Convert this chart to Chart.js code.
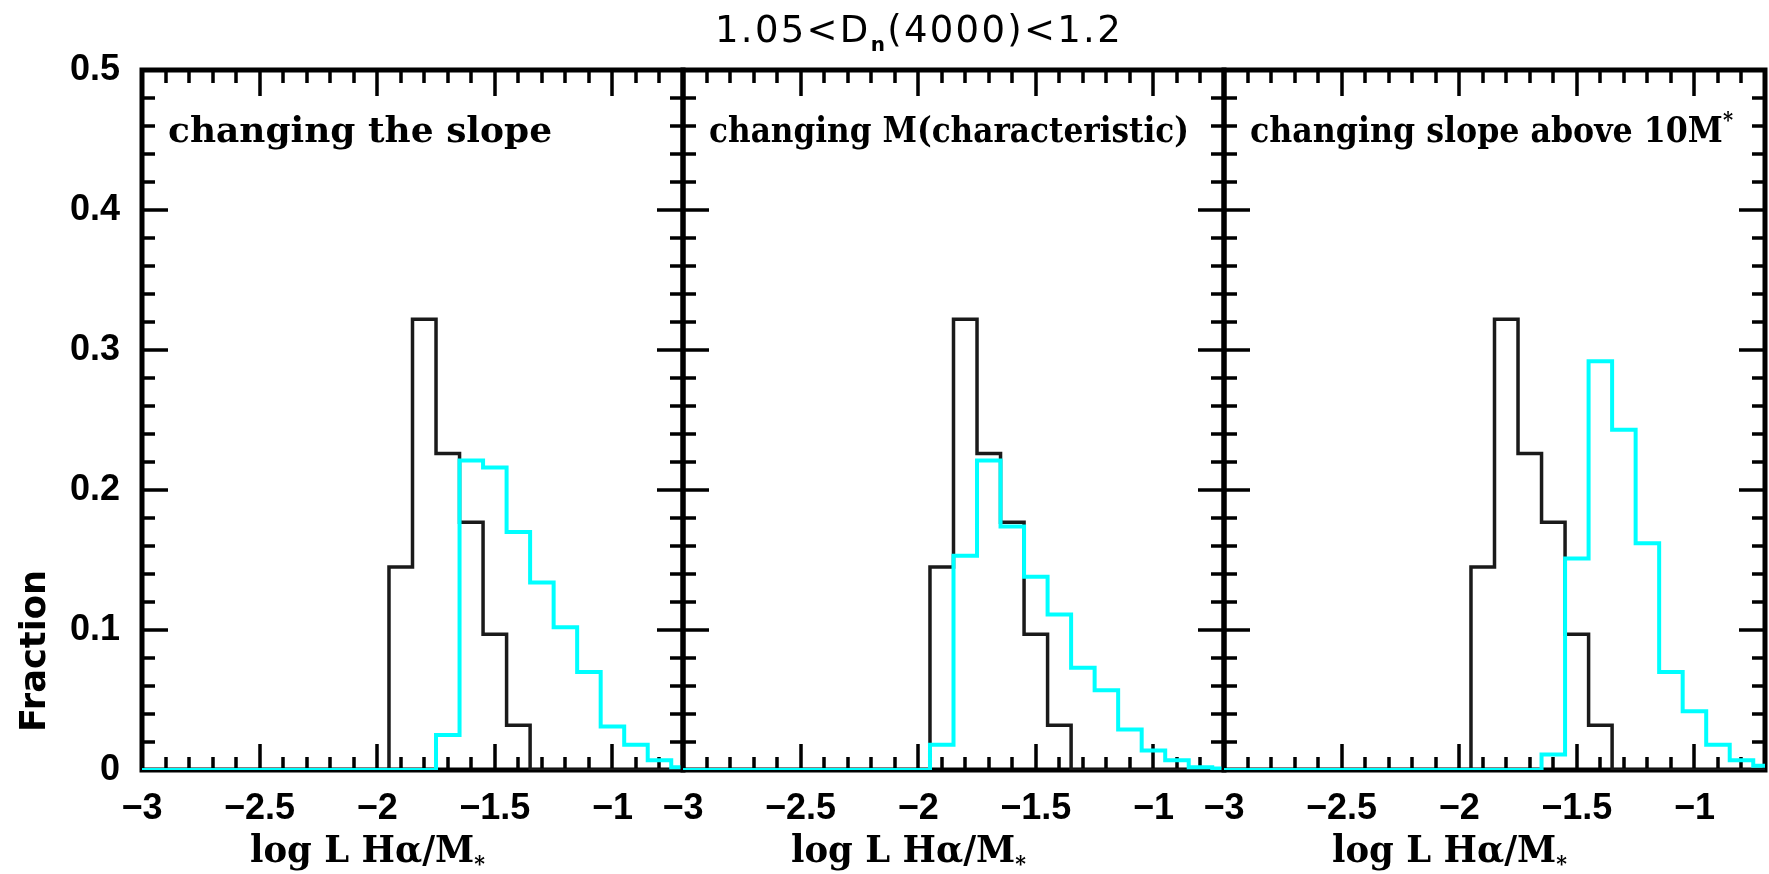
<!DOCTYPE html>
<html>
<head>
<meta charset="utf-8">
<script src="https://cdn.jsdelivr.net/npm/chart.js@4.4.1/dist/chart.umd.min.js"></script>
<style>
  html, body { margin: 0; padding: 0; background: #fff; }
  #wrap { position: relative; width: 1769px; height: 874px; overflow: hidden; }
  #wrap canvas { position: absolute; left: 0; top: 0; }
</style>
</head>
<body>
<div id="wrap">
  <canvas id="panel1" width="1769" height="874"></canvas>
  <canvas id="panel2" width="1769" height="874"></canvas>
  <canvas id="panel3" width="1769" height="874"></canvas>
</div>
<script>
// bin centres in log L Ha / M*  (bins are 0.1 wide)
const binCenters = [-3.0, -2.9, -2.8, -2.7, -2.6, -2.5, -2.4, -2.3, -2.2, -2.1, -2.0, -1.9,
                    -1.8, -1.7, -1.6, -1.5, -1.4, -1.3, -1.2, -1.1, -1.0, -0.9, -0.8, -0.7];

// observed distribution (black), same in every panel
const fracObserved = [0, 0, 0, 0, 0, 0, 0, 0, 0, 0, 0, 0.145,
                      0.322, 0.226, 0.177, 0.097, 0.032, 0, 0, 0, 0, 0, 0, 0];

// model distributions (cyan)
const fracSlope = [0, 0, 0, 0, 0, 0, 0, 0, 0, 0, 0, 0,
                   0, 0.025, 0.221, 0.216, 0.170, 0.134, 0.102, 0.070, 0.031, 0.018, 0.007, 0.002];
const fracMchar = [0, 0, 0, 0, 0, 0, 0, 0, 0, 0, 0, 0.018,
                   0.153, 0.221, 0.174, 0.138, 0.111, 0.073, 0.057, 0.029, 0.014, 0.007, 0.002, 0.001];
const fracSlopeAbove = [0, 0, 0, 0, 0, 0, 0, 0, 0, 0, 0, 0,
                        0, 0, 0.011, 0.151, 0.292, 0.243, 0.162, 0.070, 0.042, 0.018, 0.007, 0.003];

const xTickValues = [-3, -2.5, -2, -1.5, -1];
const yTickValues = [0, 0.1, 0.2, 0.3, 0.4, 0.5];
const xMinorStep = 0.1;
const yMinorStep = 0.02;

const panelTexts = [
  [['changing the slope']],
  [['changing M(characteristic)']],
  [['changing slope above 10M'], ['*', 'sup']]
];
const titleText = [['1.05<D'], ['n', 'sub'], ['(4000)<1.2']];
const xTitleText = [['log L H\u03b1/M'], ['*', 'sub']];
const yTitleText = [['Fraction']];

// layout (pixels)
const panelLeft = [142, 683, 1224];
const panelW = 541;
const yAxisW = 142;
const areaTop = 70, areaBottom = 770;
const labelWidths = [384, 480, 483];

// draws text pieces (normal / sub / sup) fitted to a target width
function drawRich(ctx, parts, x, y, font, smallFont, width) {
  ctx.save();
  ctx.fillStyle = '#000';
  ctx.textAlign = 'left';
  ctx.textBaseline = 'alphabetic';
  let natural = 0, chars = 0;
  parts.forEach(p => {
    ctx.font = p[1] ? smallFont : font;
    natural += ctx.measureText(p[0]).width;
    chars += p[0].length;
  });
  ctx.translate(x, y);
  if (natural > width) {
    ctx.scale(width / natural, 1);
  } else {
    ctx.letterSpacing = ((width - natural) / chars) + 'px';
  }
  let cx = 0;
  parts.forEach(p => {
    ctx.font = p[1] ? smallFont : font;
    let dy = 0;
    if (p[1] === 'sub') dy = 9;
    if (p[1] === 'sup') dy = -15;
    ctx.fillText(p[0], cx, dy);
    cx += ctx.measureText(p[0]).width;
  });
  ctx.restore();
}

const frameTicks = {
  id: 'frameTicks',
  beforeDatasetsDraw(chart) {
    const { ctx, chartArea: a, scales: { x, y } } = chart;
    ctx.save();
    ctx.strokeStyle = '#000';
    ctx.lineWidth = 3.5;
    ctx.beginPath();
    const nx = Math.round((x.max - x.min) / xMinorStep);
    for (let k = 1; k < nx; k++) {
      const px = Math.round(x.getPixelForValue(x.min + k * xMinorStep));
      const len = k % 5 === 0 ? 26 : 13;
      ctx.moveTo(px, a.top); ctx.lineTo(px, a.top + len);
      ctx.moveTo(px, a.bottom); ctx.lineTo(px, a.bottom - len);
    }
    const ny = Math.round((y.max - y.min) / yMinorStep);
    for (let k = 1; k < ny; k++) {
      const py = Math.round(y.getPixelForValue(y.min + k * yMinorStep));
      const len = k % 5 === 0 ? 26 : 13;
      ctx.moveTo(a.left, py); ctx.lineTo(a.left + len, py);
      ctx.moveTo(a.right, py); ctx.lineTo(a.right - len, py);
    }
    ctx.stroke();
    ctx.lineWidth = 5;
    ctx.strokeRect(a.left, a.top, a.right - a.left, a.bottom - a.top);
    ctx.restore();
  },
  afterDraw(chart) {
    const { ctx, chartArea: a } = chart;
    const i = chart.options.plugins.frameTicks.panel;
    drawRich(ctx, panelTexts[i], a.left + 26, 142, 'bold 36px "DejaVu Serif"', 'bold 22px "DejaVu Serif"', labelWidths[i]);
    drawRich(ctx, xTitleText, a.left + 108, 862, 'bold 38px "DejaVu Serif"', 'bold 22px "DejaVu Serif"', 235);
    if (i === 0) {
      drawRich(ctx, titleText, 715, 42, '37px "DejaVu Sans"', 'bold 20px "DejaVu Sans"', 408);
      ctx.save();
      ctx.translate(45, 732);
      ctx.rotate(-Math.PI / 2);
      drawRich(ctx, yTitleText, 0, 0, 'bold 36px "DejaVu Sans"', 'bold 20px "DejaVu Sans"', 162);
      ctx.restore();
    }
  }
};

function toPoints(vals) {
  return binCenters.map((x, i) => ({ x: x, y: vals[i] }));
}

function makePanel(id, i, model) {
  const tickFont = { family: 'Liberation Sans', size: 36, weight: 'bold' };
  return new Chart(document.getElementById(id), {
    type: 'line',
    data: {
      datasets: [
        { data: toPoints(fracObserved), borderColor: '#1a1a1a', borderWidth: 3.5, order: 1 },
        { data: toPoints(model), borderColor: '#00ffff', borderWidth: 4, order: 0 }
      ]
    },
    options: {
      responsive: false,
      animation: false,
      devicePixelRatio: 1,
      datasets: { line: { stepped: 'middle', pointRadius: 0, fill: false } },
      layout: {
        padding: {
          left: panelLeft[i] - yAxisW,
          right: 1769 - panelLeft[i] - panelW,
          top: areaTop,
          bottom: 0
        }
      },
      scales: {
        x: {
          type: 'linear',
          min: -3, max: -0.7,
          grid: { display: false, drawTicks: false },
          border: { display: false },
          afterFit: s => { s.height = 874 - areaBottom; },
          afterBuildTicks: s => { s.ticks = xTickValues.map(v => ({ value: v })); },
          ticks: {
            autoSkip: false, maxRotation: 0, padding: 17,
            color: '#000', font: tickFont,
            callback: v => String(v).replace('-', '\u2212')
          }
        },
        y: {
          min: 0, max: 0.5,
          grid: { display: false, drawTicks: false },
          border: { display: false },
          afterFit: s => { s.width = yAxisW; },
          afterBuildTicks: s => { s.ticks = yTickValues.map(v => ({ value: v })); },
          ticks: {
            display: i === 0,
            padding: 22, color: '#000', font: tickFont,
            callback: v => String(v)
          }
        }
      },
      plugins: {
        legend: { display: false },
        tooltip: { enabled: false },
        frameTicks: { panel: i }
      }
    },
    plugins: [frameTicks]
  });
}

makePanel('panel1', 0, fracSlope);
makePanel('panel2', 1, fracMchar);
makePanel('panel3', 2, fracSlopeAbove);
</script>
</body>
</html>
